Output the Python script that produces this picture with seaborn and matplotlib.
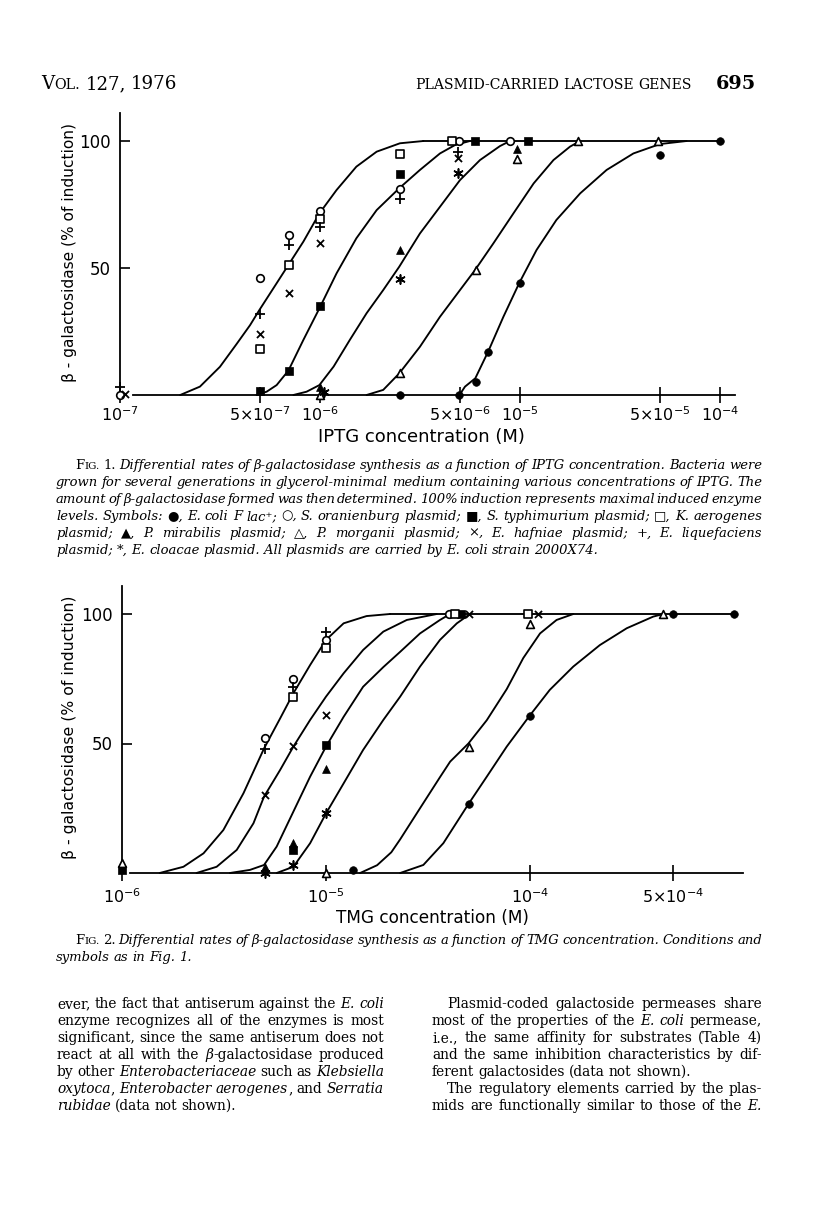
import matplotlib
matplotlib.use("Agg")
import matplotlib.pyplot as plt
import matplotlib.ticker as mticker
import numpy as np
import pandas as pd
import seaborn as sns

# --- page size in pixels (figure is drawn at 100 dpi) ---
PAGE_W, PAGE_H = 816, 1231

# --- Fig. 1: IPTG (concentration M, % induction) ---
iptg_ecoli_x = [2.5e-6, 4.95e-6, 6.0e-6, 6.9e-6, 1.0e-5, 5.0e-5, 1.0e-4]
iptg_ecoli_y = [0, 0, 5, 17, 44, 94.5, 100]
iptg_oranienburg_x = [1.0e-7, 5.0e-7, 7.0e-7, 1.0e-6, 2.5e-6, 4.97e-6, 8.9e-6]
iptg_oranienburg_y = [0, 46, 63, 72.6, 81, 100, 100]
iptg_typhimurium_x = [5.0e-7, 7.0e-7, 1.0e-6, 2.5e-6, 5.96e-6, 1.1e-5]
iptg_typhimurium_y = [1.7, 9.6, 35, 87, 100, 100]
iptg_aerogenes_x = [5.0e-7, 7.0e-7, 1.0e-6, 2.5e-6, 4.55e-6]
iptg_aerogenes_y = [18, 51, 69.4, 95, 100]
iptg_mirabilis_x = [1.0e-6, 2.5e-6, 9.7e-6]
iptg_mirabilis_y = [3, 57, 97]
iptg_morganii_x = [1.0e-6, 2.5e-6, 6.0e-6, 9.7e-6, 1.95e-5, 4.9e-5]
iptg_morganii_y = [0, 8.5, 49.2, 93, 100, 100]
iptg_hafniae_x = [1.06e-7, 5.0e-7, 7.0e-7, 1.0e-6, 4.9e-6]
iptg_hafniae_y = [0.5, 24, 40, 60, 93.2]
iptg_liquefaciens_x = [1.0e-7, 5.0e-7, 7.0e-7, 1.0e-6, 2.5e-6, 4.9e-6]
iptg_liquefaciens_y = [3, 32, 59, 66, 77, 95.8]
iptg_cloacae_x = [1.05e-6, 2.5e-6, 4.9e-6]
iptg_cloacae_y = [1, 45.5, 87.3]

# hand-drawn curves of Fig. 1 (traced points)
iptg_curve_a_x = [2.0e-7, 2.51e-7, 3.16e-7, 3.83e-7, 4.47e-7, 4.98e-7, 6.07e-7, 6.95e-7, 8.26e-7, 9.93e-7, 1.21e-6, 1.52e-6, 1.92e-6, 2.51e-6, 3.29e-6]
iptg_curve_a_y = [0, 3.3, 11.1, 20.1, 27.5, 33.5, 44, 51.2, 60.4, 71.5, 80.7, 89.9, 95.8, 99.1, 100]
iptg_curve_b_x = [4.82e-7, 5.41e-7, 6.07e-7, 6.95e-7, 8.26e-7, 9.93e-7, 1.21e-6, 1.52e-6, 1.92e-6, 2.49e-6, 3.16e-6, 3.98e-6, 4.73e-6, 5.62e-6]
iptg_curve_b_y = [0, 1.3, 3.9, 9.6, 21.7, 34.1, 47.9, 61.7, 72.8, 81.4, 88.6, 95.1, 98.4, 100]
iptg_curve_c_x = [7.36e-7, 8.57e-7, 9.93e-7, 1.17e-6, 1.41e-6, 1.71e-6, 2.07e-6, 2.49e-6, 3.16e-6, 3.98e-6, 5.01e-6, 6.31e-6, 7.94e-6, 8.91e-6]
iptg_curve_c_y = [0, 1.3, 3.9, 11.2, 21.7, 32.2, 41.3, 50.5, 63.6, 74.1, 84.6, 92.5, 98, 100]
iptg_curve_d_x = [1.71e-6, 2.07e-6, 2.49e-6, 3.16e-6, 3.98e-6, 5.01e-6, 5.96e-6, 7.36e-6, 9.27e-6, 1.17e-5, 1.47e-5, 1.78e-5, 2.0e-5]
iptg_curve_d_y = [0, 2, 8.5, 19, 30.8, 41.3, 49.2, 59.7, 71.5, 83.3, 92.5, 97.8, 100]
iptg_curve_e_x = [4.98e-6, 5.31e-6, 5.98e-6, 6.95e-6, 8.26e-6, 9.93e-6, 1.21e-5, 1.52e-5, 2.0e-5, 2.71e-5, 3.69e-5, 5.01e-5, 6.81e-5]
iptg_curve_e_y = [0, 3.3, 6.6, 17.3, 30.8, 44.2, 57.1, 68.9, 79.4, 88.6, 95.1, 98.8, 100]
iptg_plateau_x = [3.29e-6, 1.0e-4]
iptg_plateau_y = [100, 100]

iptg_ticks = [1e-7, 5e-7, 1e-6, 5e-6, 1e-5, 5e-5, 1e-4]
iptg_tick_labels = [r"$10^{-7}$", r"$5{\times}10^{-7}$", r"$10^{-6}$", r"$5{\times}10^{-6}$",
                    r"$10^{-5}$", r"$5{\times}10^{-5}$", r"$10^{-4}$"]

# --- Fig. 2: TMG ---
tmg_ecoli_x = [1.35e-5, 5.0e-5, 1.0e-4, 5.0e-4, 1.0e-3]
tmg_ecoli_y = [1, 26.6, 60.5, 100, 100]
tmg_oranienburg_x = [5.0e-6, 6.9e-6, 1.0e-5, 4.0e-5]
tmg_oranienburg_y = [52, 75, 90, 100]
tmg_typhimurium_x = [1.0e-6, 6.9e-6, 1.0e-5, 4.6e-5]
tmg_typhimurium_y = [1, 9, 49.4, 100]
tmg_aerogenes_x = [6.9e-6, 1.0e-5, 4.3e-5, 9.8e-5]
tmg_aerogenes_y = [68, 87, 100, 100]
tmg_mirabilis_x = [5.0e-6, 6.9e-6, 1.0e-5]
tmg_mirabilis_y = [2.5, 11.6, 40]
tmg_morganii_x = [1.0e-6, 1.0e-5, 5.0e-5, 1.0e-4, 4.5e-4]
tmg_morganii_y = [4, 0, 48.6, 96, 100]
tmg_hafniae_x = [5.0e-6, 6.9e-6, 1.0e-5, 5.0e-5, 1.09e-4]
tmg_hafniae_y = [30, 49, 61, 100, 100]
tmg_liquefaciens_x = [5.0e-6, 6.9e-6, 1.0e-5]
tmg_liquefaciens_y = [48, 72, 93]
tmg_cloacae_x = [5.0e-6, 6.9e-6, 1.0e-5]
tmg_cloacae_y = [0, 3, 23]

tmg_curve_1_x = [1.53e-6, 2.0e-6, 2.51e-6, 3.14e-6, 3.94e-6, 4.97e-6, 5.96e-6, 6.92e-6, 8.36e-6, 1.0e-5, 1.22e-5, 1.58e-5, 2.06e-5]
tmg_curve_1_y = [0, 2.4, 7.6, 16.6, 30.8, 48.1, 59.7, 69.4, 80.3, 90, 96.4, 99.2, 100]
tmg_curve_2_x = [2.32e-6, 2.91e-6, 3.65e-6, 4.41e-6, 4.97e-6, 5.96e-6, 6.92e-6, 8.36e-6, 1.0e-5, 1.22e-5, 1.52e-5, 1.91e-5, 2.49e-5, 3.49e-5]
tmg_curve_2_y = [0, 2.4, 8.9, 19.2, 29.5, 39.8, 48.8, 59.1, 68.1, 77.1, 86.1, 93.2, 97.7, 100]
tmg_curve_3_x = [3.38e-6, 4.24e-6, 4.97e-6, 5.73e-6, 6.92e-6, 8.36e-6, 1.0e-5, 1.22e-5, 1.52e-5, 1.91e-5, 2.31e-5, 2.89e-5, 3.62e-5, 4.06e-5]
tmg_curve_3_y = [0, 1.2, 3.1, 10.2, 23.7, 37.2, 48.8, 60.3, 71.9, 79.5, 85.4, 92.5, 97.7, 100]
tmg_curve_4_x = [5.73e-6, 6.92e-6, 8.36e-6, 1.0e-5, 1.22e-5, 1.52e-5, 1.91e-5, 2.31e-5, 2.89e-5, 3.62e-5, 4.38e-5, 5.08e-5]
tmg_curve_4_y = [0, 2.4, 11.5, 23, 34.6, 47.5, 59.1, 68.1, 79.7, 90, 96.4, 100]
tmg_curve_5_x = [1.47e-5, 1.78e-5, 2.09e-5, 2.31e-5, 2.89e-5, 3.62e-5, 4.06e-5, 4.99e-5, 6.14e-5, 7.69e-5, 9.27e-5, 1.12e-4, 1.35e-4, 1.63e-4]
tmg_curve_5_y = [0, 3, 8, 13, 25, 37, 43, 50, 59, 71, 83, 92.5, 97.7, 100]
tmg_curve_6_x = [2.31e-5, 3.0e-5, 3.76e-5, 4.99e-5, 6.14e-5, 7.69e-5, 9.93e-5, 1.25e-4, 1.63e-4, 2.2e-4, 2.98e-4, 4.02e-4, 4.51e-4]
tmg_curve_6_y = [0, 3.1, 11.5, 26.6, 37.2, 48.8, 60.6, 70.7, 79.7, 88, 94.5, 99, 100]
tmg_plateau_x = [2.06e-5, 1.0e-3]
tmg_plateau_y = [100, 100]

tmg_ticks = [1e-6, 1e-5, 1e-4, 5e-4]
tmg_tick_labels = [r"$10^{-6}$", r"$10^{-5}$", r"$10^{-4}$", r"$5{\times}10^{-4}$"]

# --- page text ---
header_left = "V~OL.~ 127, 1976"
header_mid = "PLASMID-CARRIED LACTOSE GENES"
header_page = "695"

caption1_lines = [
    "_F~IG.~ 1._ Differential rates of β-galactosidase synthesis as a function of IPTG concentration. Bacteria were",
    "grown for several generations in glycerol-minimal medium containing various concentrations of IPTG. The",
    "amount of β-galactosidase formed was then determined. 100% induction represents maximal induced enzyme",
    "levels. Symbols: ●, E. coli F lac⁺; ○, S. oranienburg plasmid; ■, S. typhimurium plasmid; □, K. aerogenes",
    "plasmid; ▲, P. mirabilis plasmid; △, P. morganii plasmid; ×, E. hafniae plasmid; +, E. liquefaciens",
    "plasmid; *, E. cloacae plasmid. All plasmids are carried by E. coli strain 2000X74.",
]
caption2_lines = [
    "_F~IG.~ 2._ Differential rates of β-galactosidase synthesis as a function of TMG concentration. Conditions and",
    "symbols as in Fig. 1.",
]
body_left_lines = [
    "ever, the fact that antiserum against the _E. coli_",
    "enzyme recognizes all of the enzymes is most",
    "significant, since the same antiserum does not",
    "react at all with the _β_-galactosidase produced",
    "by other _Enterobacteriaceae_ such as _Klebsiella_",
    "_oxytoca_, _Enterobacter aerogenes_, and _Serratia_",
    "_rubidae_ (data not shown).",
]
body_right_lines = [
    "Plasmid-coded galactoside permeases share",
    "most of the properties of the _E. coli_ permease,",
    "i.e., the same affinity for substrates (Table 4)",
    "and the same inhibition characteristics by dif-",
    "ferent galactosides (data not shown).",
    "The regulatory elements carried by the plas-",
    "mids are functionally similar to those of the _E._",
]

# --- symbol styles, one per plasmid source ---
SPECIES = ["ecoli", "oranienburg", "typhimurium", "aerogenes", "mirabilis",
           "morganii", "hafniae", "liquefaciens", "cloacae"]
STYLE = {
    "ecoli": dict(marker="o", color="black", edgecolor="black", linewidth=0.5, s=30),
    "oranienburg": dict(marker="o", color="white", edgecolor="black", linewidth=1.2, s=30),
    "typhimurium": dict(marker="s", color="black", edgecolor="black", linewidth=0.5, s=28),
    "aerogenes": dict(marker="s", color="white", edgecolor="black", linewidth=1.2, s=28),
    "mirabilis": dict(marker="^", color="black", edgecolor="black", linewidth=0.5, s=32),
    "morganii": dict(marker="^", color="white", edgecolor="black", linewidth=1.2, s=32),
    "hafniae": dict(marker="x", color="black", linewidth=1.3, s=26),
    "liquefaciens": dict(marker="+", color="black", linewidth=1.3, s=45),
    "cloacae": dict(marker=(6, 2, 0), color="black", linewidth=1.2, s=42),
}

SERIF = ["DejaVu Serif", "DejaVu Sans"]
SANS = ["DejaVu Sans"]


def long_frame(prefix):
    rows = []
    for sp in SPECIES:
        xs = globals()[f"{prefix}_{sp}_x"]
        ys = globals()[f"{prefix}_{sp}_y"]
        rows += [{"species": sp, "conc": x, "pct": y} for x, y in zip(xs, ys)]
    return pd.DataFrame(rows)


sns.set_theme(style="white", rc={"axes.edgecolor": "black", "xtick.color": "black",
                                 "ytick.color": "black", "text.color": "black"})
plt.rcParams["font.family"] = SANS
plt.rcParams["mathtext.fontset"] = "dejavusans"

fig = plt.figure(figsize=(PAGE_W / 100, PAGE_H / 100), dpi=100)
renderer = fig.canvas.get_renderer()


def add_panel(ref_conc, ref_px, decade_px, base_px, pct_px):
    left_px, right_px = 100, 760
    ymin, ymax = -8, 115
    top_px = base_px - ymax * pct_px
    bot_px = base_px - ymin * pct_px
    ax = fig.add_axes([left_px / PAGE_W, 1 - bot_px / PAGE_H,
                       (right_px - left_px) / PAGE_W, (bot_px - top_px) / PAGE_H])
    ax.set_xscale("log")
    ax.set_xlim(ref_conc * 10 ** ((left_px - ref_px) / decade_px),
                ref_conc * 10 ** ((right_px - ref_px) / decade_px))
    ax.set_ylim(ymin, ymax)
    ax.set_facecolor("none")
    return ax


def draw_panel(ax, df, curves, y_axis_at, x_span, ticks, tick_labels, tick_pad):
    for xs, ys in curves:
        sns.lineplot(x=xs, y=ys, ax=ax, color="black", linewidth=1.35,
                     estimator=None, sort=False, zorder=2)
    for sp in SPECIES:
        sub = df[df["species"] == sp]
        sns.scatterplot(data=sub, x="conc", y="pct", ax=ax, legend=False,
                        zorder=3, clip_on=False, **STYLE[sp])
    for side in ["top", "right"]:
        ax.spines[side].set_visible(False)
    ax.spines["left"].set_position(("data", y_axis_at))
    ax.spines["left"].set_bounds(3, 111)
    ax.spines["bottom"].set_position(("data", 0))
    ax.spines["bottom"].set_bounds(*x_span)
    for side in ["left", "bottom"]:
        ax.spines[side].set_linewidth(1.3)
    ax.xaxis.set_minor_locator(mticker.NullLocator())
    ax.set_xticks(ticks, tick_labels)
    ax.set_yticks([50, 100], ["50", "100"])
    ax.tick_params(axis="x", bottom=True, direction="inout", length=11, width=1.2,
                   pad=tick_pad, labelsize=11.5)
    ax.tick_params(axis="y", left=True, direction="in", length=7, width=1.2,
                   pad=7, labelsize=12)
    ax.set_xlabel("")
    ax.set_ylabel("")


def fig_xy(px, py):
    return px / PAGE_W, 1 - py / PAGE_H


def fit_text(s, px, py, span, rotation=0, **kw):
    t = fig.text(*fig_xy(px, py), s, fontsize=10, rotation=rotation,
                 ha="center", va="center", **kw)
    bb = t.get_window_extent(renderer)
    size = bb.height if rotation else bb.width
    t.set_fontsize(10 * span / size)
    return t


def parse_words(line, italic):
    words, small = [], False
    for raw in line.split():
        runs, buf = [], ""
        for ch in raw:
            if ch in "_~":
                if buf:
                    runs.append((buf, italic, small))
                    buf = ""
                if ch == "_":
                    italic = not italic
                else:
                    small = not small
            else:
                buf += ch
        if buf:
            runs.append((buf, italic, small))
        if runs:
            words.append(runs)
    return words


def make_runs(line, size, italic, family, weight):
    placed = []
    for runs in parse_words(line, italic):
        objs = []
        for txt, it, sm in runs:
            t = fig.text(0, 0, txt, fontsize=size * (0.78 if sm else 1.0),
                         fontstyle="italic" if it else "normal", family=family,
                         fontweight=weight, ha="left", va="baseline", color="black")
            objs.append((t, t.get_window_extent(renderer).width))
        placed.append(objs)
    return placed


def natural_width(line, size, italic=False, family=SERIF, weight="normal"):
    placed = make_runs(line, size, italic, family, weight)
    total = sum(w for objs in placed for _, w in objs) + 0.3 * size * 100 / 72 * (len(placed) - 1)
    for objs in placed:
        for t, _ in objs:
            t.remove()
    return total


def draw_line(line, x0, base, size, italic=False, x1=None, family=SERIF, weight="normal"):
    placed = make_runs(line, size, italic, family, weight)
    widths = [sum(w for _, w in objs) for objs in placed]
    gap = 0.3 * size * 100 / 72
    if x1 is not None and len(placed) > 1:
        gap = (x1 - x0 - sum(widths)) / (len(placed) - 1)
    x = x0
    for objs in placed:
        for t, w in objs:
            t.set_position(fig_xy(x, base))
            x += w
        x += gap


def block_size(lines, spans, italic):
    ratios = [(x1 - x0) / natural_width(ln, 10, italic) for ln, (x0, x1) in zip(lines, spans)]
    return 10 * float(np.median(ratios))


# ---------------- Fig. 1 ----------------
ax1 = add_panel(1e-7, 120, 200, 395, 2.54)
iptg_curves = [(iptg_curve_a_x, iptg_curve_a_y), (iptg_curve_b_x, iptg_curve_b_y),
               (iptg_curve_c_x, iptg_curve_c_y), (iptg_curve_d_x, iptg_curve_d_y),
               (iptg_curve_e_x, iptg_curve_e_y), (iptg_plateau_x, iptg_plateau_y)]
draw_panel(ax1, long_frame("iptg"), iptg_curves, 1e-7, (10 ** -6.935, 10 ** -3.925),
           iptg_ticks, iptg_tick_labels, tick_pad=2)

# ---------------- Fig. 2 ----------------
ax2 = add_panel(1e-6, 122, 204, 873, 2.59)
tmg_curves = [(tmg_curve_1_x, tmg_curve_1_y), (tmg_curve_2_x, tmg_curve_2_y),
              (tmg_curve_3_x, tmg_curve_3_y), (tmg_curve_4_x, tmg_curve_4_y),
              (tmg_curve_5_x, tmg_curve_5_y), (tmg_curve_6_x, tmg_curve_6_y),
              (tmg_plateau_x, tmg_plateau_y)]
draw_panel(ax2, long_frame("tmg"), tmg_curves, 1e-6, (10 ** -5.96, 10 ** -2.956),
           tmg_ticks, tmg_tick_labels, tick_pad=5)

# axis titles, lettered like the originals
fit_text("β - galactosidase (% of induction)", 70, 253, 258, rotation=90, family=SANS)
fit_text("β - galactosidase (% of induction)", 70, 727, 262, rotation=90, family=SANS)
fit_text("IPTG concentration (M)", 421, 437, 207, family=SANS)
fit_text("TMG concentration (M)", 432, 918, 193, family=SANS)

# ---------------- running head ----------------
for text, x0, x1, wt in [(header_left, 41, 178, "normal"), (header_mid, 415, 690, "normal"),
                         (header_page, 716, 756, "bold")]:
    size = 10 * (x1 - x0) / natural_width(text, 10, weight=wt)
    draw_line(text, x0, 89, size, weight=wt)

# ---------------- captions ----------------
cap_spans = [(75, 762)] + [(56, 762)] * 4
cap_size = block_size(caption1_lines[:5], cap_spans, italic=True)
for i, line in enumerate(caption1_lines):
    x0 = 75 if i == 0 else 56
    draw_line(line, x0, 469 + 17 * i, cap_size, italic=True,
              x1=762 if i < len(caption1_lines) - 1 else None)
draw_line(caption2_lines[0], 75, 944, cap_size, italic=True, x1=762)
draw_line(caption2_lines[1], 56, 961, cap_size, italic=True)

# ---------------- body text ----------------
left_spans = [(57, 384)] * 6
body_size = block_size(body_left_lines[:6], left_spans, italic=False)
for i, line in enumerate(body_left_lines):
    draw_line(line, 57, 1008 + 17 * i, body_size,
              x1=384 if i < len(body_left_lines) - 1 else None)
right_justify = [True, True, True, True, False, True, True]
right_indent = [True, False, False, False, False, True, False]
for i, line in enumerate(body_right_lines):
    x0 = 447 if right_indent[i] else 432
    draw_line(line, x0, 1008 + 17 * i, body_size, x1=762 if right_justify[i] else None)

fig.savefig("out.png", dpi=100, facecolor="white")
